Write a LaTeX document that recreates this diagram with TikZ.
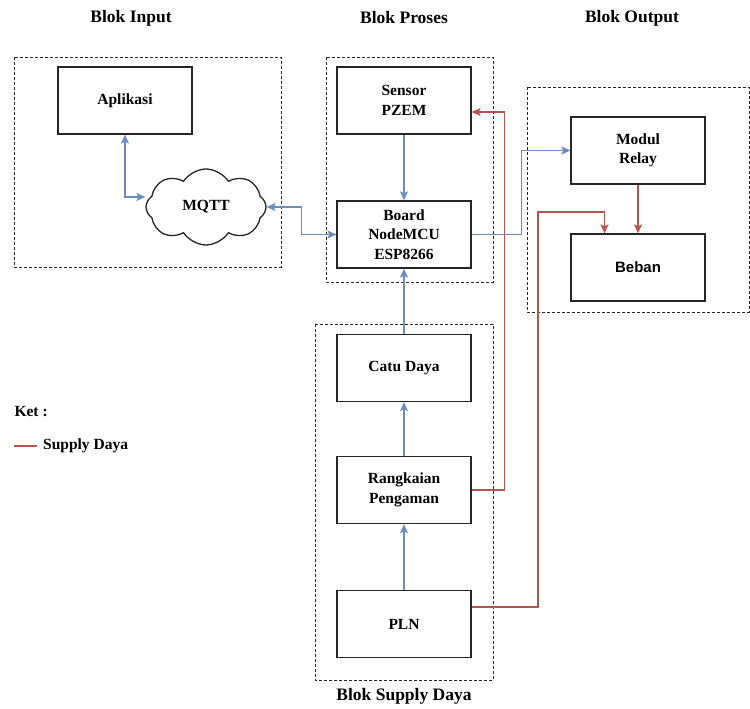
\documentclass[tikz,border=0pt]{standalone}
\usepackage{fontspec}
\setmainfont{Liberation Serif}
\newfontfamily\arialfont{Liberation Sans}
\usetikzlibrary{shapes.symbols,arrows.meta}
\definecolor{lblue}{HTML}{6C8EBF}
\definecolor{lred}{HTML}{B85450}
\begin{document}
\begin{tikzpicture}[x=1pt,y=-1pt,
  blk/.style={draw=black!85,line width=1.3pt,minimum width=134pt,minimum height=67pt,inner sep=0pt,align=center,font=\fontsize{15.5}{19.5}\selectfont\bfseries},
  grp/.style={draw=black!85,line width=0.9pt,dash pattern=on 3pt off 2pt},
  ttl/.style={font=\fontsize{17.5}{20}\selectfont\bfseries},
  tip/.style={Stealth[length=9pt,width=8pt,inset=2pt]},
  bl/.style={draw=lblue,line width=1.3pt,-{Stealth[length=9pt,width=8pt,inset=2pt]}},
  bibl/.style={draw=lblue,line width=1.3pt,{Stealth[length=9pt,width=8pt,inset=2pt]}-{Stealth[length=9pt,width=8pt,inset=2pt]}},
  rd/.style={draw=lred,line width=1.3pt,-{Stealth[length=9pt,width=8pt,inset=2pt]}}]
\useasboundingbox (0,0) rectangle (750,709);
% titles
\node[ttl] (tin) at (131,18) {Blok Input};
\node[ttl] (tpr) at (404,18) {Blok Proses};
\node[ttl] (tout) at (632,18) {Blok Output};
\node[ttl] (tsup) at (404,696) {Blok Supply Daya};
% group boxes
\draw[grp] (14,57) rectangle (281,267);
\draw[grp] (326,57) rectangle (493,282);
\draw[grp] (527,87) rectangle (749,312);
\draw[grp] (315,324) rectangle (493,680);
% blocks
\node[blk] (apl) at (125,100.5) {Aplikasi};
\node[cloud,draw=black!85,line width=1.3pt,cloud puffs=8,cloud puff arc=115,aspect=1.6,minimum width=120pt,minimum height=76pt,inner sep=0pt,font=\fontsize{15.5}{18.5}\selectfont\bfseries] (mqtt) at (206,207) {MQTT};
\node[blk] (sensor) at (404,100.5) {Sensor\\PZEM};
\node[blk] (board) at (404,234.5) {Board\\NodeMCU\\ESP8266};
\node[blk] (relay) at (638,150.5) {Modul\\Relay};
\node[blk,font=\fontsize{15}{18}\selectfont\bfseries\arialfont] (beban) at (638,267.5) {Beban};
\node[blk] (catu) at (404,368) {Catu Daya};
\node[blk] (rang) at (404,490) {Rangkaian\\Pengaman};
\node[blk] (pln) at (404,624) {PLN};
% blue connectors
\draw[bibl] (apl.south) |- ([yshift=10pt]mqtt.west);
\draw[bibl] (mqtt.east) -- ++(35,0) |- (board.west);
\draw[bl] (sensor.south) -- (board.north);
\draw[bl] (board.east) -- ++(50,0) |- (relay.west);
\draw[bl] (catu.north) -- (board.south);
\draw[bl] (rang.north) -- (catu.south);
\draw[bl] (pln.north) -- (rang.south);
% red connectors
\draw[rd] (relay.south) -- (beban.north);
\draw[rd] (rang.east) -- ++(33,0) |- ([yshift=-11.5pt]sensor.east);
\coordinate (j1) at (538,212);
\draw[rd] ([yshift=17pt]pln.east) -| (j1) -| ([xshift=-33.5pt]beban.north);
% legend
\node[anchor=west,font=\fontsize{15.5}{18}\selectfont\bfseries] (ket) at (11,412) {Ket :};
\coordinate (l1) at (14,446);
\coordinate (l2) at (37,446);
\draw[lred,line width=1.3pt] (l1) -- (l2);
\node[anchor=west,inner sep=0pt,font=\fontsize{15.5}{18}\selectfont\bfseries] (lsup) at (43,446) {Supply Daya};
\end{tikzpicture}
\end{document}
